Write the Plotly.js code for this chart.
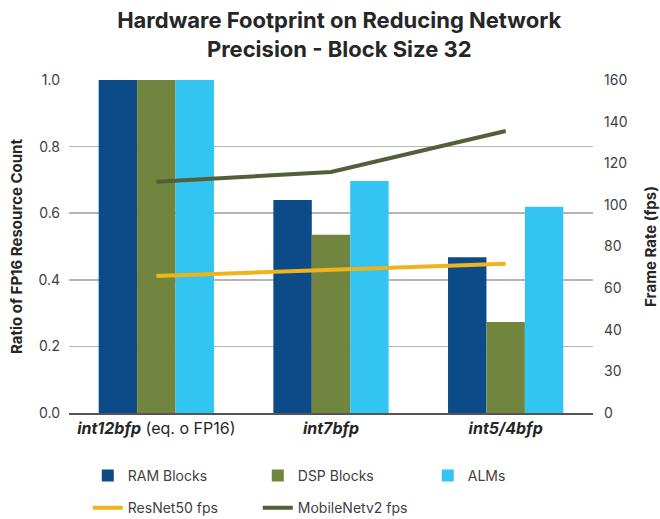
<!DOCTYPE html>
<html><head><meta charset="utf-8">
<script src="https://cdn.plot.ly/plotly-3.0.1.min.js"></script>
<style>body{margin:0;background:#fff}#c{width:660px;height:519px}</style>
</head><body><div id="c"></div>
<script>
const categories = ['<b><i>int12bfp</i></b> (eq. o FP16)', '<b><i>int7bfp</i></b>', '<b><i>int5/4bfp</i></b>'];
const ramBlocks = [1.0, 0.64, 0.468];
const dspBlocks = [1.0, 0.535, 0.273];
const alms = [1.0, 0.697, 0.619];
const resnet50Fps = [65.8, 68.7, 71.7];
const mobilenetFps = [111.1, 115.8, 135.5];
const rightTickVals = [0, 20, 40, 60, 80, 100, 120, 140, 160];
const rightTickText = ['0', '30', '40', '60', '80', '100', '120', '140', '160'];

const F = 'Inter, "Open Sans", sans-serif';
const traces = [
  {type:'bar', name:'RAM Blocks', x:categories, y:ramBlocks, marker:{color:'#0c4b87'}, legend:'legend'},
  {type:'bar', name:'DSP Blocks', x:categories, y:dspBlocks, marker:{color:'#71853f'}, legend:'legend'},
  {type:'bar', name:'ALMs', x:categories, y:alms, marker:{color:'#32c5f2'}, legend:'legend'},
  {type:'scatter', mode:'lines', name:'ResNet50 fps', x:categories, y:resnet50Fps, yaxis:'y2', line:{color:'#efb41c', width:4}, legend:'legend2'},
  {type:'scatter', mode:'lines', name:'MobileNetv2 fps', x:categories, y:mobilenetFps, yaxis:'y2', line:{color:'#535e3b', width:4}, legend:'legend2'}
];
const layout = {
  width:660, height:519,
  margin:{l:69, r:67, t:80, b:106},
  paper_bgcolor:'#fff', plot_bgcolor:'#fff',
  font:{family:F, color:'#404040', size:14},
  title:{text:'<b>Hardware Footprint on Reducing Network<br>Precision - Block Size 32</b>', x:0.514, xanchor:'center', y:0.946, yanchor:'middle', yref:'container', font:{family:F, size:22, color:'#262626'}},
  barmode:'group', bargap:0.34, bargroupgap:0,
  xaxis:{showgrid:false, showline:true, linecolor:'#555', linewidth:2, ticks:'', tickfont:{size:16, color:'#262626'}, fixedrange:true},
  yaxis:{range:[0,1], tickvals:[0,0.2,0.4,0.6,0.8,1.0], tickformat:'.1f', showgrid:true, gridcolor:'#b5b5b5', gridwidth:1.5, zeroline:false, ticks:'', ticklabelstandoff:8,
    title:{text:'<b>Ratio of FP16 Resource Count</b>', font:{size:15, color:'#262626'}, standoff:12}},
  yaxis2:{range:[0,160], overlaying:'y', side:'right', tickvals:rightTickVals, ticktext:rightTickText, showgrid:false, zeroline:false, ticks:'', ticklabelstandoff:10,
    title:{text:'<b>Frame Rate (fps)</b>', font:{size:15, color:'#262626'}, standoff:19}},
  legend:{orientation:'h', xref:'container', yref:'container', x:0.133, xanchor:'left', y:0.083, yanchor:'middle', entrywidth:125, entrywidthmode:'pixels', font:{size:14, color:'#404040'}, traceorder:'normal'},
  legend2:{orientation:'h', xref:'container', yref:'container', x:0.133, xanchor:'left', y:0.021, yanchor:'middle', entrywidth:125, entrywidthmode:'pixels', font:{size:14, color:'#404040'}, traceorder:'normal'},
  showlegend:true
};
Plotly.newPlot('c', traces, layout, {displayModeBar:false, staticPlot:true});
</script></body></html>
